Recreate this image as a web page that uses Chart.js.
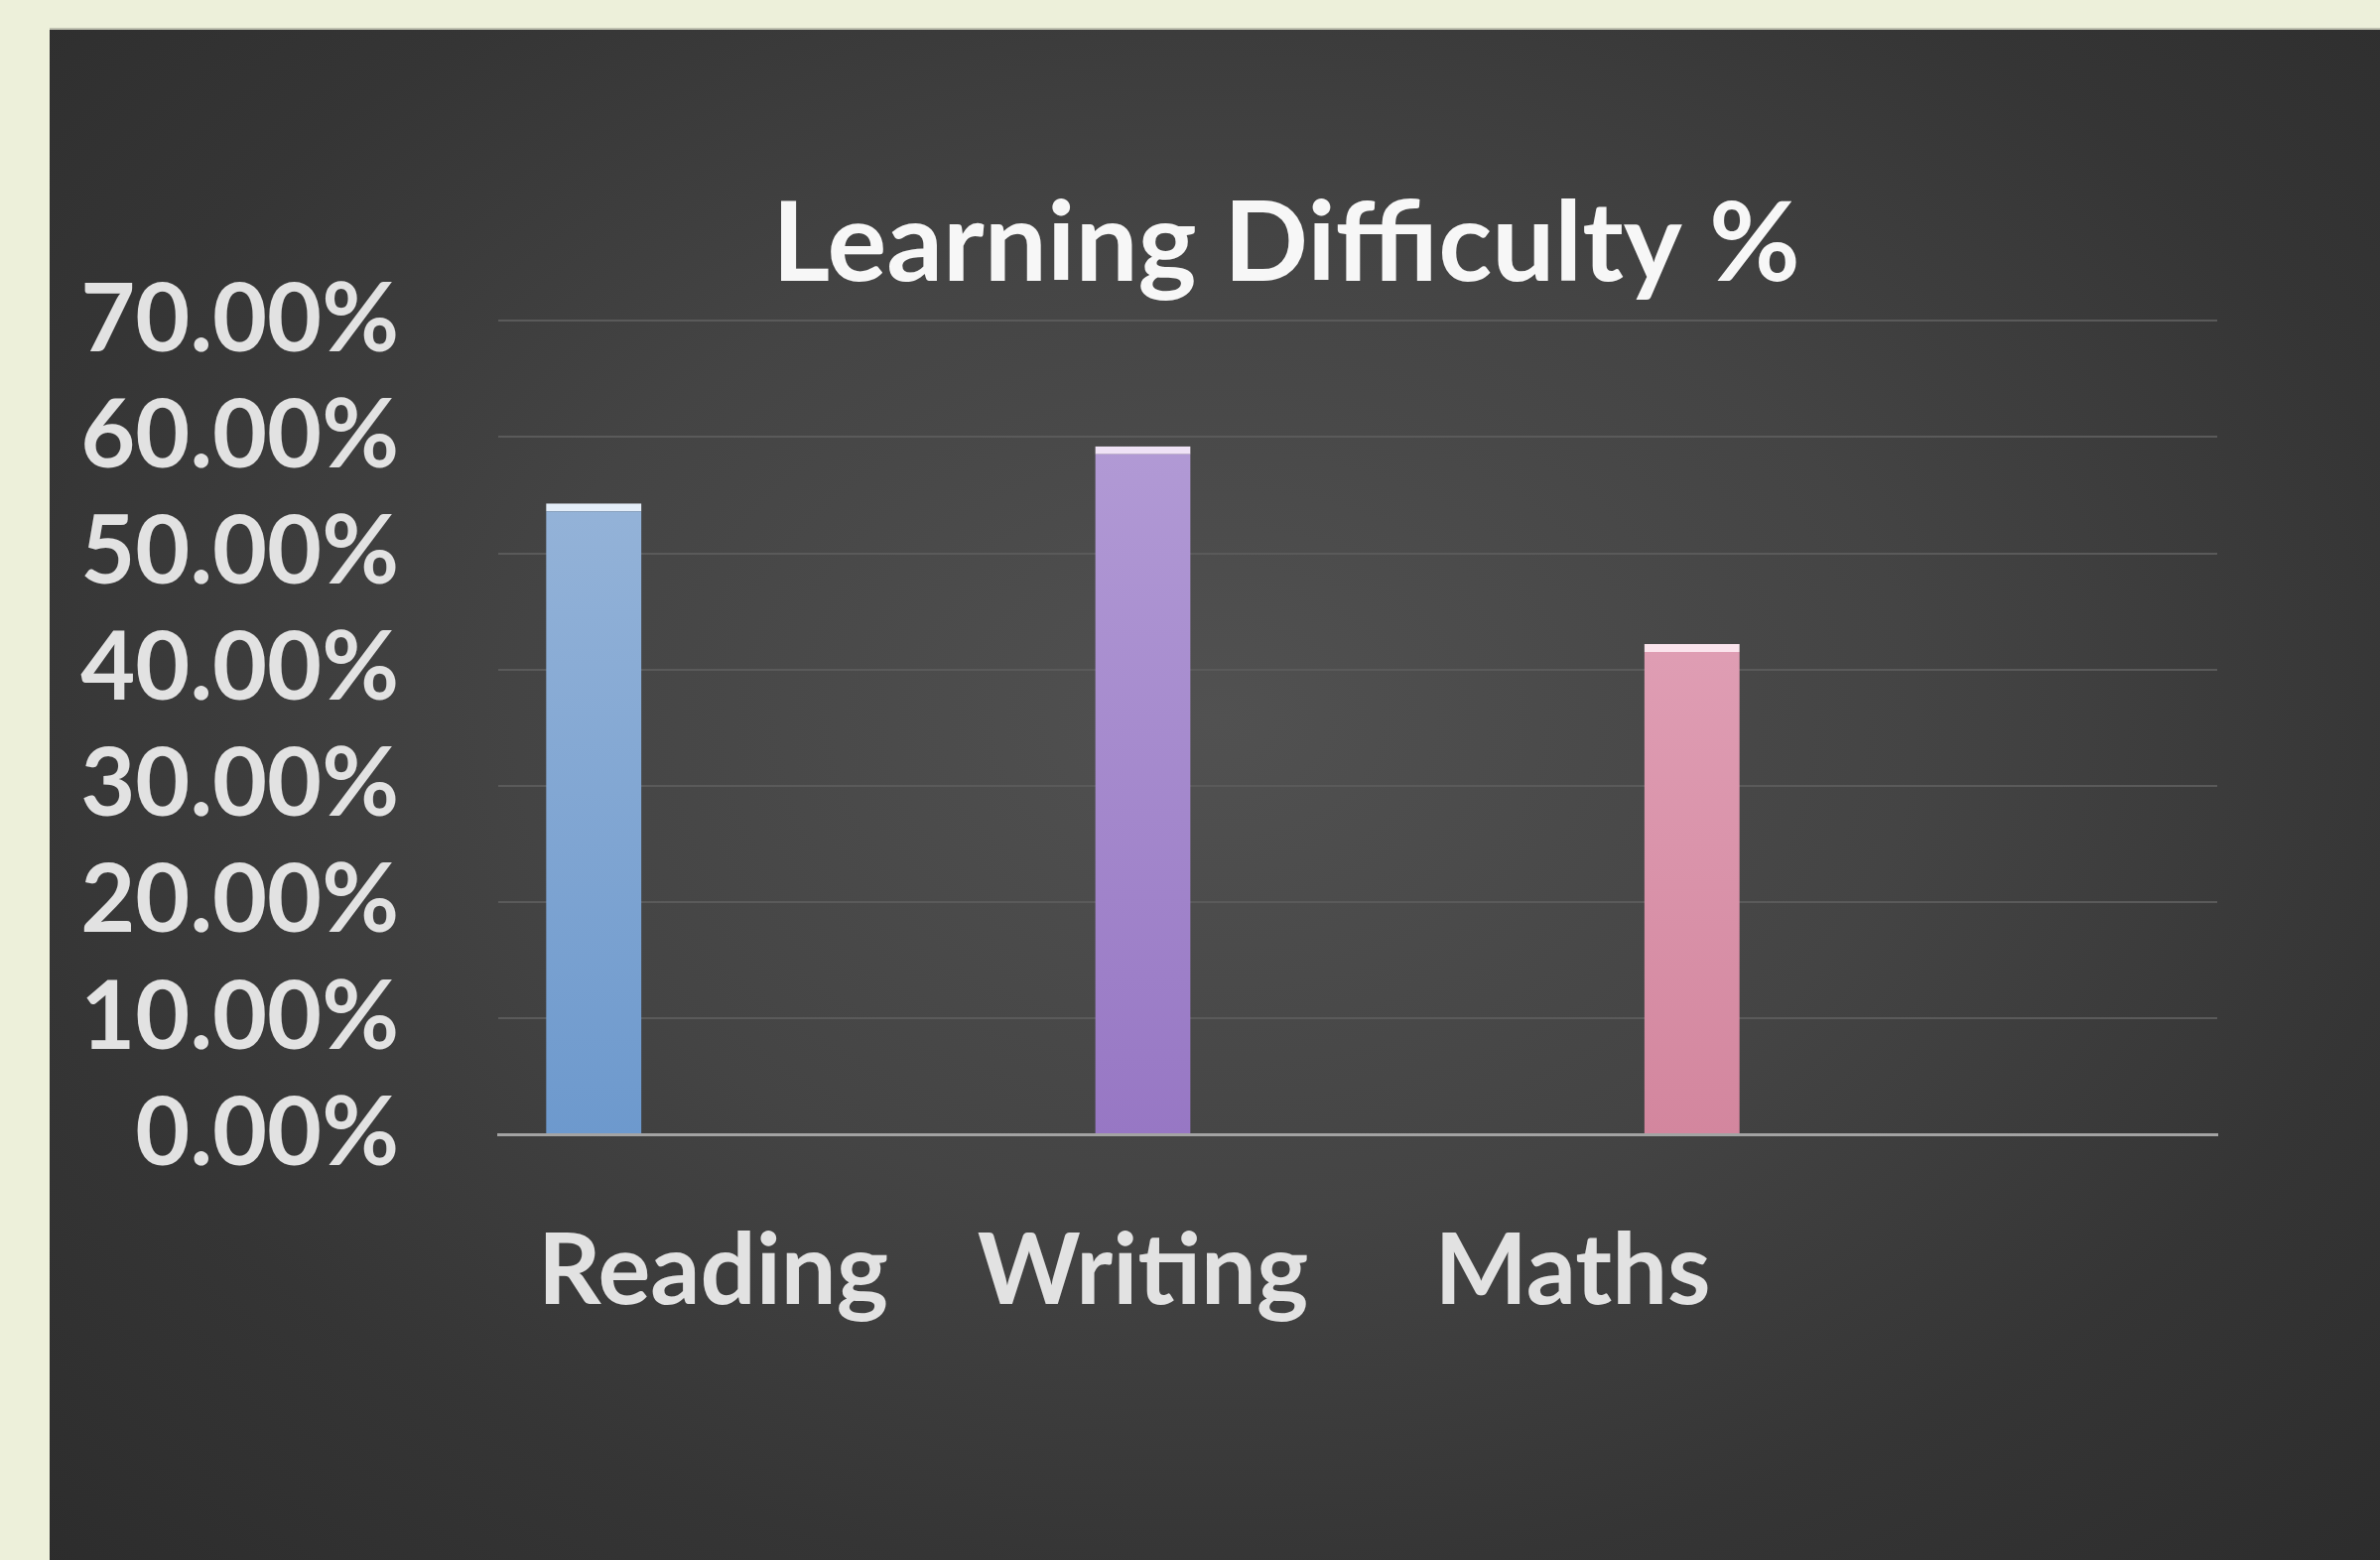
<!DOCTYPE html>
<html>
<head>
<meta charset="utf-8">
<script src="https://cdn.jsdelivr.net/npm/chart.js@4.4.1/dist/chart.umd.min.js"></script>
<style>
  html, body { margin: 0; padding: 0; width: 2398px; height: 1572px; overflow: hidden; background: #edf0da; }
  #panel {
    position: absolute; left: 50px; top: 28px; width: 2348px; height: 1544px;
    background: radial-gradient(ellipse 75% 80% at 50% 45%, #515151 0%, #444444 40%, #353535 70%, #2b2b2b 100%);
    border-top: 2px solid #bfc1b0;
    overflow: hidden;
  }
  #chart { position: absolute; left: 0; top: 0; }
</style>
</head>
<body>
<div id="panel"><canvas id="chart" width="2492" height="1544"></canvas></div>
<script>
// categories (the 4th slot is empty in the original chart)
const subjects = ['Reading', 'Writing', 'Maths', ''];
const difficulty = [54.3, 59.2, 42.2];
const yTickLabels = ['0.00%', '10.00%', '20.00%', '30.00%', '40.00%', '50.00%', '60.00%', '70.00%'];

const barTop = ['#9fbadb', '#b6a0d8', '#e7adc2'];
const barBottom = ['#6d99cd', '#9777c4', '#d3869e'];
const barEdge = ['#e4eef9', '#efe2f6', '#fbe4ed'];

function gradientFor(i) {
  return (ctx) => {
    const area = ctx.chart.chartArea;
    if (!area) return barBottom[i];
    const g = ctx.chart.ctx.createLinearGradient(0, area.top, 0, area.bottom);
    g.addColorStop(0, barTop[i]);
    g.addColorStop(1, barBottom[i]);
    return g;
  };
}

// each subject is its own series, sitting in its own category slot
const datasets = difficulty.map((v, i) => ({
  label: subjects[i],
  data: subjects.map((_, j) => (j === i ? v : null)),
  backgroundColor: gradientFor(i),
  borderColor: barEdge[i],
  borderWidth: { top: 8, left: 0, right: 0, bottom: 0 },
  borderSkipped: 'start',
}));

const tickFont = { family: 'Lato', weight: 'bold' };

let chart;
try {
  chart = new Chart(document.getElementById('chart'), {
    type: 'bar',
    data: { labels: subjects, datasets: datasets },
    options: {
      responsive: false,
      animation: false,
      categoryPercentage: 0.833,
      barPercentage: 0.8,
      plugins: {
        legend: { display: false },
        tooltip: { enabled: false },
        title: {
          display: true,
          text: 'Learning Difficulty %',
          color: '#f7f7f7',
          font: { family: 'Lato', size: 112, weight: 'bold' },
          padding: { top: 150, bottom: 9 },
        },
      },
      scales: {
        x: {
          grid: { display: false, drawTicks: false },
          border: { display: true, color: '#a3a3a3', width: 3 },
          ticks: {
            color: '#e2e2e2',
            padding: 80,
            maxRotation: 0,
            autoSkip: false,
            font: { ...tickFont, size: 99 },
          },
          afterFit(scale) { scale.height = 431; },
        },
        y: {
          min: 0,
          max: 70,
          grid: {
            drawTicks: false,
            lineWidth: 2,
            color: (ctx) => (ctx.tick && ctx.tick.value === 0 ? 'rgba(0,0,0,0)' : '#5a5a5a'),
          },
          border: { display: false },
          ticks: {
            stepSize: 10,
            color: '#e2e2e2',
            padding: 100,
            font: { ...tickFont, size: 95 },
            callback: (v) => yTickLabels[Math.round(v / 10)],
          },
          afterFit(scale) { scale.width = 452; },
        },
        // empty right-hand axis, only reserves the blank strip right of the plot
        yRight: {
          position: 'right',
          grid: { display: false, drawTicks: false },
          border: { display: false },
          ticks: { display: false },
          afterFit(scale) { scale.width = 308; },
        },
      },
    },
  });
} catch (error) {
  console.error('Error initializing the chart:', error);
}
</script>
</body>
</html>
